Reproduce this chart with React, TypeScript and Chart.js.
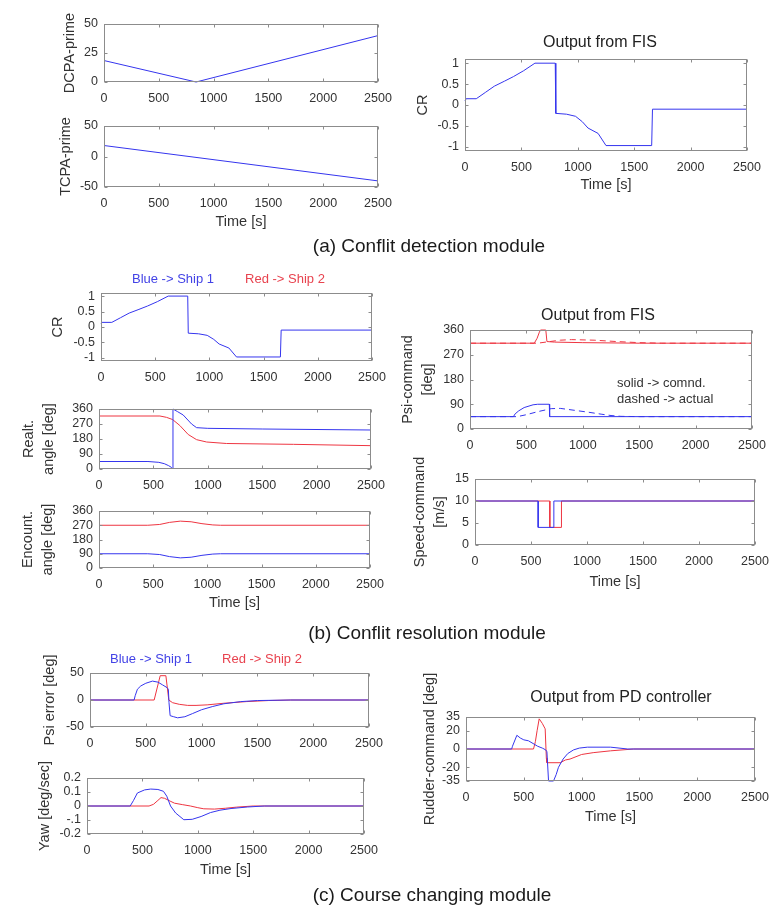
import React, { useEffect, useRef } from "react";
import { Chart, registerables } from "chart.js";
Chart.register(...registerables);

// ---------------- data ----------------
const timeTicks = [0, 500, 1000, 1500, 2000, 2500];

const dcpaTime = [0, 840, 2500];
const dcpaValue = [18.5, 0, 40];
const tcpaTime = [0, 2500];
const tcpaValue = [18, -40];

const crTime = [0, 10, 100, 180, 260, 350, 430, 520, 620, 800, 805, 900, 980, 1040, 1090, 1180, 1250, 1655, 1662, 2500];
const crValue = [0.1, 0.15, 0.15, 0.3, 0.45, 0.57, 0.68, 0.82, 1, 1, -0.2, -0.22, -0.27, -0.4, -0.55, -0.68, -0.97, -0.97, -0.1, -0.1];

const realtShip1Time = [0, 450, 550, 600, 640, 665, 680, 680, 720, 774, 851, 897, 1000, 1500, 2500];
const realtShip1Value = [45, 45, 40, 32, 20, 10, 0, 360, 345, 324, 270, 248, 244, 240, 234];
const realtShip2Time = [0, 560, 620, 676, 743, 820, 897, 989, 1173, 1787, 2500];
const realtShip2Value = [318, 318, 310, 297, 261, 207, 176, 162, 153, 148, 140];

const encTime = [0, 450, 560, 650, 750, 850, 950, 1050, 1120, 2500];
const encShip1Value = [90, 90, 85, 72, 64, 68, 80, 88, 90, 90];
const encShip2Value = [270, 270, 275, 288, 296, 292, 280, 272, 270, 270];

const psiCmdShip1Time = [0, 385, 400, 432, 480, 559, 600, 703, 706, 2500];
const psiCmdShip1Value = [45, 45, 55, 66, 78, 88, 90, 90, 45, 45];
const psiActShip1Time = [0, 420, 500, 600, 720, 800, 926, 1050, 1162, 1250, 1338, 1500, 2500];
const psiActShip1Value = [45, 45, 52, 63, 74, 75, 68, 61, 54, 49, 46, 45, 45];
const psiCmdShip2Time = [0, 570, 595, 615, 625, 672, 682, 750, 1000, 1500, 2500];
const psiCmdShip2Value = [312, 312, 330, 352, 360, 360, 318, 316, 314, 312, 312];
const psiActShip2Time = [0, 600, 690, 800, 900, 1100, 1300, 1500, 1700, 2500];
const psiActShip2Value = [312, 312, 317, 323, 325, 323, 318, 314, 312, 312];

const speedShip1Time = [0, 564, 564, 704, 704, 2500];
const speedShip1Value = [10, 10, 4, 4, 10, 10];
const speedShip2Time = [0, 668, 668, 772, 772, 2500];
const speedShip2Value = [10, 10, 4, 4, 10, 10];

const psiErrShip1Time = [0, 395, 405, 425, 455, 500, 560, 610, 650, 690, 702, 708, 718, 750, 785, 850, 920, 1000, 1100, 1200, 1350, 1500, 1800, 2500];
const psiErrShip1Value = [0, 0, 8, 20, 26, 31, 35, 33, 28, 23, 20, -5, -29, -31, -33, -31, -25, -18, -12, -7, -3, -1, 0, 0];
const psiErrShip2Time = [0, 575, 629, 680, 706, 740, 800, 875, 950, 1050, 1200, 1400, 1600, 1800, 2500];
const psiErrShip2Value = [0, 0, 45, 45, 0, -5, -8, -10, -10, -9, -6, -3, -1, 0, 0];

const yawShip1Time = [0, 390, 420, 455, 520, 575, 640, 690, 720, 754, 800, 874, 950, 1030, 1114, 1200, 1300, 1450, 1600, 2500];
const yawShip1Value = [0, 0, 0.04, 0.093, 0.115, 0.121, 0.118, 0.105, 0.07, 0, -0.05, -0.098, -0.095, -0.075, -0.047, -0.03, -0.018, -0.007, 0, 0];
const yawShip2Time = [0, 560, 600, 640, 668, 700, 750, 790, 860, 934, 1000, 1054, 1150, 1250, 1350, 1500, 2500];
const yawShip2Value = [0, 0, 0.012, 0.04, 0.06, 0.055, 0.035, 0.02, 0.01, 0, -0.012, -0.02, -0.022, -0.016, -0.008, 0, 0];

const rudShip1Time = [0, 395, 402, 440, 470, 500, 540, 580, 620, 660, 690, 700, 714, 757, 780, 800, 840, 880, 930, 980, 1050, 1250, 1400, 2500];
const rudShip1Value = [0, 0, 3, 15, 12, 10, 9, 6, 3, 1, -1, -3, -35, -35, -28, -20, -11, -5, -1, 1, 2, 2, 0, 0];
const rudShip2Time = [0, 584, 600, 615, 633, 660, 685, 695, 700, 815, 860, 900, 1000, 1100, 1250, 1450, 2500];
const rudShip2Value = [0, 0, 8, 20, 33, 28, 22, -10, -15, -15, -12, -11, -6, -4, -2, 0, 0];

const dcpaTicks = [0, 25, 50];
const pm50Ticks = [-50, 0, 50];
const crTicks = [-1, -0.5, 0, 0.5, 1];
const angleTicks = [0, 90, 180, 270, 360];
const speedTicks = [0, 5, 10, 15];
const yawTicks = [-0.2, -0.1, 0, 0.1, 0.2];
const yawTickLabels = ["-0.2", "-.1", "0", "0.1", "0.2"];
const rudderTicks = [-35, -20, 0, 20, 35];

// ---------------- styles ----------------
const FONT = "'Liberation Sans', Arial, Helvetica, sans-serif";
const BLUE = "#3535ee";
const RED = "#ee3541";
const AXIS = "#8c8c8c";
const TXT = "#333333";

type Series = { t: number[]; v: number[]; color: string; dash?: number[] };
type PanelSpec = {
  box: [number, number, number, number];
  yMin: number;
  yMax: number;
  yTicks: number[];
  yLabels?: string[];
  yTitle: string | string[];
  yTitleX: number;
  xTitleY?: number;
  series: Series[];
};

const panels: PanelSpec[] = [
  { box: [104, 24, 378, 82], yMin: 0, yMax: 50, yTicks: dcpaTicks, yTitle: "DCPA-prime", yTitleX: 70,
    series: [{ t: dcpaTime, v: dcpaValue, color: BLUE }] },
  { box: [104, 126, 378, 187], yMin: -50, yMax: 50, yTicks: pm50Ticks, yTitle: "TCPA-prime", yTitleX: 66, xTitleY: 222,
    series: [{ t: tcpaTime, v: tcpaValue, color: BLUE }] },
  { box: [465, 59, 747, 151], yMin: -1.1, yMax: 1.1, yTicks: crTicks, yTitle: "CR", yTitleX: 423, xTitleY: 185,
    series: [{ t: crTime, v: crValue, color: BLUE }] },
  { box: [101, 293, 372, 361], yMin: -1.1, yMax: 1.1, yTicks: crTicks, yTitle: "CR", yTitleX: 58,
    series: [{ t: crTime, v: crValue, color: BLUE }] },
  { box: [99, 409, 371, 469], yMin: 0, yMax: 360, yTicks: angleTicks, yTitle: ["Realt.", "angle [deg]"], yTitleX: 29,
    series: [{ t: realtShip1Time, v: realtShip1Value, color: BLUE }, { t: realtShip2Time, v: realtShip2Value, color: RED }] },
  { box: [99, 511, 370, 568], yMin: 0, yMax: 360, yTicks: angleTicks, yTitle: ["Encount.", "angle [deg]"], yTitleX: 28, xTitleY: 603,
    series: [{ t: encTime, v: encShip1Value, color: BLUE }, { t: encTime, v: encShip2Value, color: RED }] },
  { box: [470, 330, 752, 429], yMin: 0, yMax: 360, yTicks: angleTicks, yTitle: ["Psi-command", "[deg]"], yTitleX: 408,
    series: [
      { t: psiActShip1Time, v: psiActShip1Value, color: BLUE, dash: [6, 4] },
      { t: psiCmdShip1Time, v: psiCmdShip1Value, color: BLUE },
      { t: psiActShip2Time, v: psiActShip2Value, color: RED, dash: [6, 4] },
      { t: psiCmdShip2Time, v: psiCmdShip2Value, color: RED },
    ] },
  { box: [475, 479, 755, 545], yMin: 0, yMax: 15, yTicks: speedTicks, yTitle: ["Speed-command", "[m/s]"], yTitleX: 420, xTitleY: 582,
    series: [{ t: speedShip1Time, v: speedShip1Value, color: BLUE }, { t: speedShip2Time, v: speedShip2Value, color: RED }] },
  { box: [90, 673, 369, 727], yMin: -50, yMax: 50, yTicks: pm50Ticks, yTitle: "Psi error [deg]", yTitleX: 50,
    series: [{ t: psiErrShip1Time, v: psiErrShip1Value, color: BLUE }, { t: psiErrShip2Time, v: psiErrShip2Value, color: RED }] },
  { box: [87, 778, 364, 834], yMin: -0.2, yMax: 0.2, yTicks: yawTicks, yLabels: yawTickLabels, yTitle: "Yaw [deg/sec]", yTitleX: 45, xTitleY: 870,
    series: [{ t: yawShip1Time, v: yawShip1Value, color: BLUE }, { t: yawShip2Time, v: yawShip2Value, color: RED }] },
  { box: [466, 717, 755, 781], yMin: -35, yMax: 35, yTicks: rudderTicks, yTitle: "Rudder-command [deg]", yTitleX: 430, xTitleY: 817,
    series: [{ t: rudShip1Time, v: rudShip1Value, color: BLUE }, { t: rudShip2Time, v: rudShip2Value, color: RED }] },
];

const boxPlugin = {
  id: "matlabBox",
  afterDatasetsDraw(chart: any) {
    const { ctx, chartArea } = chart;
    const xs = chart.scales.x;
    const ys = chart.scales.y;
    const L = Math.round(chartArea.left) + 0.5;
    const R = Math.round(chartArea.right) - 0.5;
    const T = Math.round(chartArea.top) + 0.5;
    const B = Math.round(chartArea.bottom) - 0.5;
    ctx.save();
    ctx.strokeStyle = AXIS;
    ctx.lineWidth = 1;
    ctx.strokeRect(L, T, R - L, B - T);
    ctx.beginPath();
    const tk = 3;
    for (const tick of xs.ticks) {
      const p = Math.round(xs.getPixelForValue(tick.value)) + 0.5;
      ctx.moveTo(p, B); ctx.lineTo(p, B - tk);
      ctx.moveTo(p, T); ctx.lineTo(p, T + tk);
    }
    for (const tick of ys.ticks) {
      const p = Math.round(ys.getPixelForValue(tick.value)) + 0.5;
      ctx.moveTo(L, p); ctx.lineTo(L + tk, p);
      ctx.moveTo(R, p); ctx.lineTo(R - tk, p);
    }
    ctx.stroke();
    ctx.restore();
  },
};

function Panel({ p }: { p: PanelSpec }) {
  const ref = useRef<HTMLCanvasElement>(null);
  const [l, t, r, b] = p.box;
  const multi = Array.isArray(p.yTitle);
  const yFs = 14.5;
  const yLH = multi ? 1.38 : 1.2;
  const cl = Math.round(p.yTitleX - (yFs * yLH) / 2);
  const mid = (t + b) / 2;
  const ct = Math.floor(Math.min(t - 12, mid - 85));
  const xFs = 14.5;
  const xH = p.xTitleY ? Math.round(p.xTitleY - b + (xFs * 1.2) / 2) : 26;
  const padR = 24;
  const padB = Math.max(0, Math.ceil(mid + 85 - (b + xH)));
  const W = r + padR - cl;
  const H = b - ct + xH + padB;

  useEffect(() => {
    const canvas = ref.current;
    if (!canvas) return;
    const chart = new Chart(canvas, {
      type: "line",
      data: {
        datasets: p.series.map((s) => ({
          data: s.t.map((x, i) => ({ x, y: s.v[i] })),
          borderColor: s.color,
          borderWidth: 1,
          borderDash: s.dash || [],
          pointRadius: 0,
          tension: 0,
          fill: false,
          clip: false,
        })),
      },
      options: {
        animation: false,
        responsive: false,
        devicePixelRatio: 1,
        layout: { padding: { left: 0, top: t - ct, right: padR, bottom: padB } },
        plugins: { legend: { display: false }, tooltip: { enabled: false }, title: { display: false } },
        scales: {
          x: {
            type: "linear",
            min: 0,
            max: 2500,
            afterBuildTicks: (s: any) => { s.ticks = timeTicks.map((v) => ({ value: v })); },
            afterFit: (s: any) => { s.height = xH; },
            ticks: { autoSkip: false, maxRotation: 0, padding: 9, color: TXT, font: { family: FONT, size: 12.5 }, callback: (v: any) => String(v) },
            grid: { display: false, drawTicks: false },
            border: { display: false },
            title: { display: !!p.xTitleY, text: "Time [s]", color: TXT, padding: 0, font: { family: FONT, size: xFs, lineHeight: 1.2 } },
          },
          y: {
            type: "linear",
            min: p.yMin,
            max: p.yMax,
            afterBuildTicks: (s: any) => { s.ticks = p.yTicks.map((v) => ({ value: v })); },
            afterFit: (s: any) => { s.width = l - cl; },
            ticks: {
              autoSkip: false, padding: 6, color: TXT, font: { family: FONT, size: 12.5 },
              callback: (v: any, i: number) => (p.yLabels ? p.yLabels[i] : String(v)),
            },
            grid: { display: false, drawTicks: false },
            border: { display: false },
            title: { display: true, text: p.yTitle as any, color: TXT, padding: 0, font: { family: FONT, size: yFs, lineHeight: yLH } },
          },
        },
      } as any,
      plugins: [boxPlugin],
    });
    return () => chart.destroy();
  }, []);

  return (
    <canvas
      ref={ref}
      width={W}
      height={H}
      style={{ position: "absolute", left: cl, top: ct, width: W, height: H }}
    />
  );
}

function Txt({ x, y, text, size, color, left }: { x: number; y: number; text: string; size: number; color: string; left?: boolean }) {
  return (
    <div
      style={{
        position: "absolute",
        left: x,
        top: y,
        transform: left ? "translate(0,-50%)" : "translate(-50%,-50%)",
        fontFamily: FONT,
        fontSize: size,
        lineHeight: 1,
        color,
        whiteSpace: "nowrap",
      }}
    >
      {text}
    </div>
  );
}

export default function App() {
  return (
    <div style={{ position: "absolute", left: 0, top: 0, width: 770, height: 907, background: "#fff", overflow: "hidden" }}>
      {panels.map((p, i) => (
        <Panel key={i} p={p} />
      ))}
      <Txt x={600} y={42} text="Output from FIS" size={16} color="#222" />
      <Txt x={598} y={315} text="Output from FIS" size={16} color="#222" />
      <Txt x={621} y={697} text="Output from PD controller" size={16} color="#222" />
      <Txt x={173} y={278} text="Blue -> Ship 1" size={13} color="#4343e6" />
      <Txt x={285} y={278} text="Red -> Ship 2" size={13} color="#e8434f" />
      <Txt x={151} y={658} text="Blue -> Ship 1" size={13} color="#4343e6" />
      <Txt x={262} y={658} text="Red -> Ship 2" size={13} color="#e8434f" />
      <Txt x={617} y={382} text="solid -> comnd." size={13} color="#333" left />
      <Txt x={617} y={398} text="dashed -> actual" size={13} color="#333" left />
      <Txt x={429} y={245} text="(a) Conflit detection module" size={19} color="#1a1a1a" />
      <Txt x={427} y={632} text="(b) Conflit resolution module" size={19} color="#1a1a1a" />
      <Txt x={432} y={894} text="(c) Course changing module" size={19} color="#1a1a1a" />
    </div>
  );
}
